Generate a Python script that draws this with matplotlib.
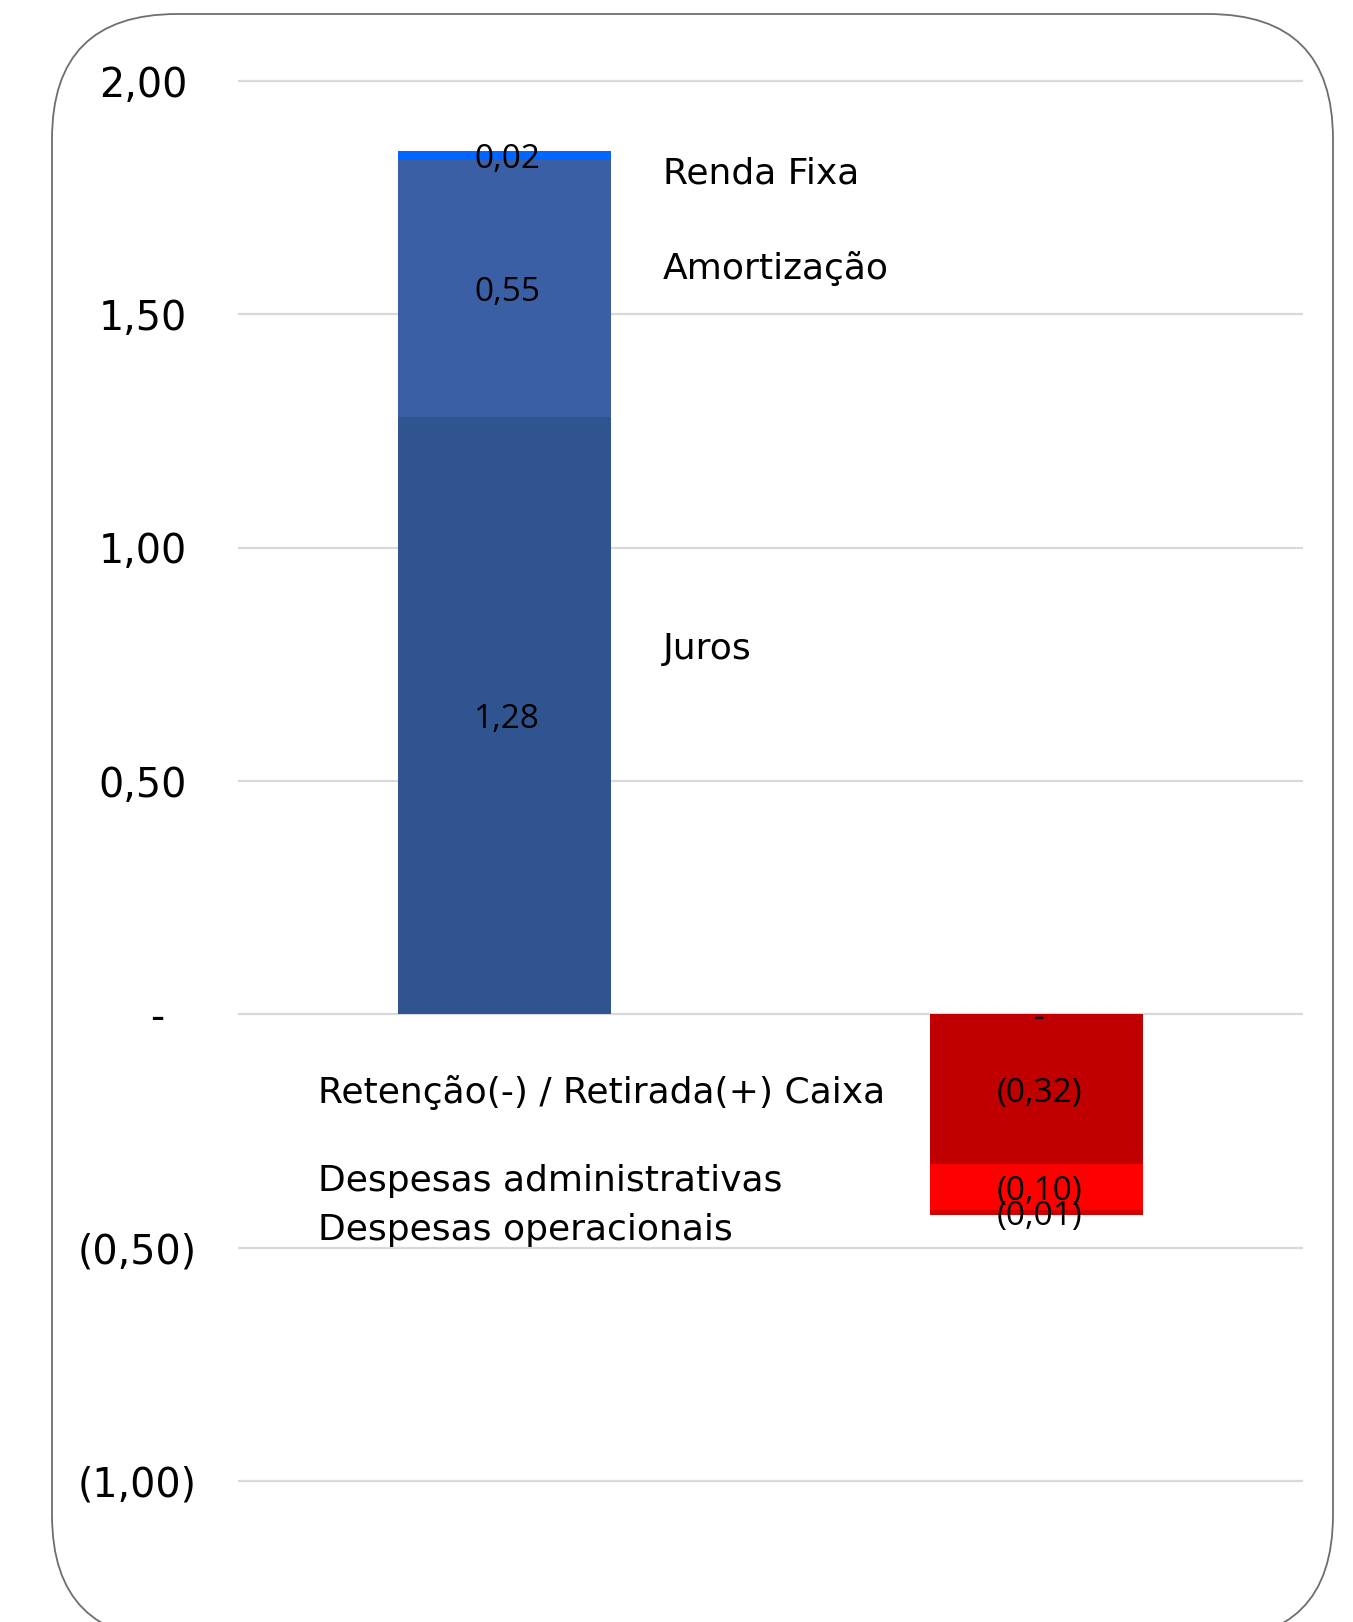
import numpy as np
import matplotlib.pyplot as plt
from matplotlib.patches import FancyBboxPatch
from matplotlib.transforms import blended_transform_factory

# stacked values for each column (bottom -> top / top -> bottom)
entradas = [1.28, 0.55, 0.02]
entradas_cores = ['#2F5490', '#3A5FA5', '#0066FF']
entradas_nomes = ['Juros', 'Amortização', 'Renda Fixa']

saidas = [0.00, -0.32, -0.10, -0.01]
saidas_cores = ['#2F5490', '#C00000', '#FF0000', '#D00000']
saidas_nomes = ['Retenção(-) / Retirada(+) Caixa', 'Despesas administrativas', 'Despesas operacionais']

yticks = [2.0, 1.5, 1.0, 0.5, 0.0, -0.5, -1.0]

def fmt(v):
    if abs(v) < 1e-9:
        return '-'
    s = f'{abs(v):.2f}'.replace('.', ',')
    return f'({s})' if v < 0 else s

plt.rcParams['font.family'] = ['Open Sans', 'DejaVu Sans']
rotulo = dict(family='DejaVu Sans', color='black')

fig = plt.figure(figsize=(13.53, 16.22), dpi=100)

# rounded card outline
card = FancyBboxPatch((52, -18), 1281, 1626, boxstyle='round,pad=0,rounding_size=125',
                      transform=None, facecolor='none', edgecolor='#6E6E6E', lw=1.3, zorder=5)
fig.patches.append(card)

ax = fig.add_axes([0.1759, 0.001, 0.7871, 0.9926])
ax.set_facecolor('none')
ax.set_xlim(-0.5, 1.5)
ax.set_ylim(-1.2985, 2.1515)
for s in ax.spines.values():
    s.set_visible(False)
ax.set_xticks([])
ax.set_yticks(yticks)
ax.set_yticklabels([])
ax.tick_params(axis='y', length=0)
ax.yaxis.grid(True, color='#D9D9D9', lw=1.6)
ax.set_axisbelow(True)

w = 0.4
# first column: positive contributions
bottom = 0.0
for v, c in zip(entradas, entradas_cores):
    ax.bar(0, v, w, bottom=bottom, color=c, zorder=2)
    ax.text(0.005, bottom + v / 2, fmt(v), ha='center', va='center_baseline', fontsize=24, color='black', zorder=3)
    bottom += v

# second column: deductions
bottom = 0.0
for v, c in zip(saidas, saidas_cores):
    ax.bar(1, v, w, bottom=bottom, color=c, zorder=2)
    ax.text(1.005, bottom + v / 2, fmt(v), ha='center', va='center_baseline', fontsize=24, color='black', zorder=3)
    bottom += v

# category names next to the columns
for nome, y in zip(entradas_nomes, [0.79, 1.605, 1.81]):
    ax.text(0.298, y, nome, ha='left', va='center_baseline', fontsize=26, **rotulo)
for nome, y in zip(saidas_nomes, [-0.16, -0.35, -0.455]):
    ax.text(-0.349, y, nome, ha='left', va='center_baseline', fontsize=26, **rotulo)

# y tick labels in accounting style
trans = blended_transform_factory(fig.transFigure, ax.transData)
for t in yticks:
    if t > 0:
        ax.text(187 / 1353, t, fmt(t), transform=trans, ha='right', va='center_baseline', fontsize=28.5, **rotulo)
    elif t < 0:
        ax.text(196.5 / 1353, t, fmt(t), transform=trans, ha='right', va='center_baseline', fontsize=28.5, **rotulo)
    else:
        ax.text(157 / 1353, t, fmt(t), transform=trans, ha='center', va='center_baseline', fontsize=28.5, **rotulo)

fig.savefig('out.png', dpi=100, facecolor='white')
